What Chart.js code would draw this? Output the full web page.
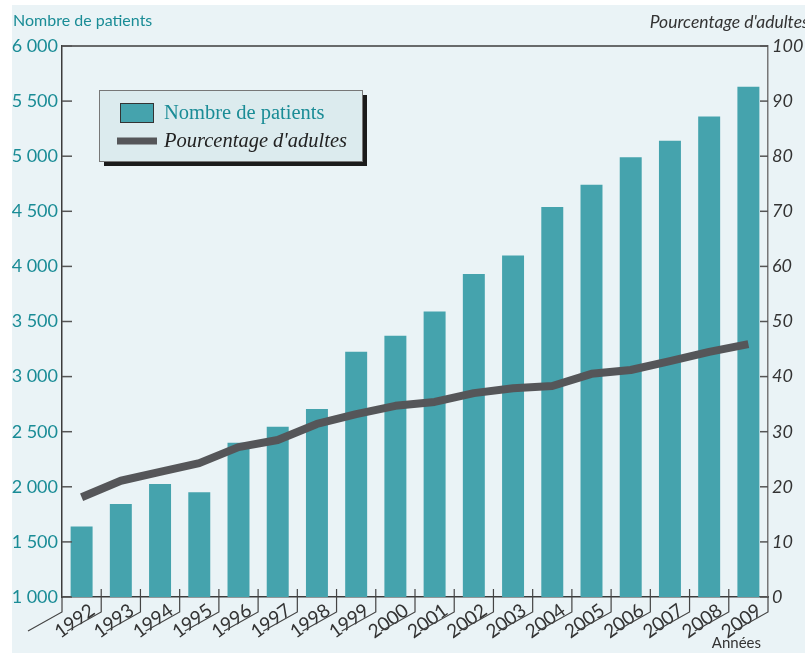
<!DOCTYPE html>
<html>
<head>
<meta charset="utf-8">
<script src="https://cdn.jsdelivr.net/npm/chart.js@4/dist/chart.umd.min.js"></script>
<style>
  html, body { margin: 0; padding: 0; background: #ffffff; overflow: hidden; }
  #wrap { width: 805px; height: 653px; position: relative; }
</style>
</head>
<body>
<div id="wrap"><canvas id="chart" width="805" height="653"></canvas></div>
<script>
var years = ['1992', '1993', '1994', '1995', '1996', '1997', '1998', '1999', '2000',
             '2001', '2002', '2003', '2004', '2005', '2006', '2007', '2008', '2009'];
var patients = [1640, 1845, 2025, 1950, 2400, 2545, 2705, 3225, 3370,
                3590, 3930, 4100, 4540, 4740, 4990, 5140, 5360, 5630];
var adultPct = [18.1, 21.1, 22.7, 24.3, 27.2, 28.5, 31.4, 33.2, 34.7,
                35.4, 37.0, 37.9, 38.3, 40.5, 41.2, 42.8, 44.5, 45.9];

var teal = '#45a3ad';
var tealText = '#1a8c96';
var lineGrey = '#555659';
var sansFont = 'Lato, "Open Sans", sans-serif';

function spaced(v) {
    return String(v).replace(/\B(?=(\d{3})+(?!\d))/g, ' ');
}

// background panel, frame, inward ticks, x decorations, titles and legend
var decor = {
    id: 'decor',
    beforeDraw: function(chart) {
        var c = chart.ctx;
        c.save();
        c.fillStyle = '#ffffff';
        c.fillRect(0, 0, chart.width, chart.height);
        c.fillStyle = '#eaf3f6';
        c.fillRect(12, 5, chart.width - 12, chart.height - 5);
        c.restore();
    },
    afterDraw: function(chart) {
        var c = chart.ctx;
        var a = chart.chartArea;
        var x = chart.scales.x;
        var y = chart.scales.y;
        var y1 = chart.scales.y1;
        c.save();

        // top frame line
        c.strokeStyle = '#3c3c3c';
        c.lineWidth = 1.5;
        c.beginPath();
        c.moveTo(a.left, a.top);
        c.lineTo(a.right, a.top);
        c.stroke();

        // left inward ticks
        c.strokeStyle = '#555';
        c.lineWidth = 1.5;
        y.ticks.forEach(function(t) {
            var py = y.getPixelForValue(t.value);
            c.beginPath();
            c.moveTo(a.left, py);
            c.lineTo(a.left + 10, py);
            c.stroke();
        });
        // right inward ticks
        y1.ticks.forEach(function(t) {
            var py = y1.getPixelForValue(t.value);
            c.beginPath();
            c.moveTo(a.right - 8, py);
            c.lineTo(a.right, py);
            c.stroke();
        });

        // x boundary ticks and diagonal underlines
        var step = x.getPixelForValue(1) - x.getPixelForValue(0);
        c.strokeStyle = '#444';
        c.lineWidth = 1.2;
        for (var i = 0; i <= years.length; i++) {
            var bx = x.getPixelForValue(0) - step / 2 + i * step;
            c.beginPath();
            c.moveTo(bx, (i === 0 || i === years.length) ? a.bottom : a.bottom - 8);
            c.lineTo(bx, a.bottom + 15);
            c.lineTo(bx - 34, a.bottom + 34);
            c.stroke();
        }

        // axis titles
        c.fillStyle = tealText;
        c.font = '16px ' + sansFont;
        c.textAlign = 'left';
        c.textBaseline = 'alphabetic';
        c.fillText('Nombre de patients', 13, 26);
        c.fillStyle = '#333';
        c.font = 'italic 17.5px ' + sansFont;
        c.textAlign = 'right';
        c.fillText("Pourcentage d'adultes", 809, 28);
        c.font = '15px ' + sansFont;
        c.fillText('Années', 761, 648);

        // legend box with shadow
        var lx = 99, ly = 90, lw = 263, lh = 71;
        c.fillStyle = '#1b1b1b';
        c.fillRect(lx + 5, ly + 5, lw, lh);
        c.fillStyle = '#dcebee';
        c.fillRect(lx, ly, lw, lh);
        c.strokeStyle = '#777';
        c.lineWidth = 1;
        c.strokeRect(lx + 0.5, ly + 0.5, lw, lh);

        c.fillStyle = teal;
        c.fillRect(120, 103, 34, 20);
        c.strokeStyle = '#333';
        c.strokeRect(120.5, 103.5, 33, 19);
        c.fillStyle = tealText;
        c.font = '20.5px "Liberation Serif", serif';
        c.textAlign = 'left';
        c.fillText(chart.data.datasets[0].label, 164, 119);

        c.strokeStyle = lineGrey;
        c.lineWidth = 7;
        c.beginPath();
        c.moveTo(117, 141);
        c.lineTo(157, 141);
        c.stroke();
        c.fillStyle = '#222';
        c.font = 'italic 20.5px "Liberation Serif", serif';
        c.fillText(chart.data.datasets[1].label, 164, 147);

        c.restore();
    }
};

new Chart(document.getElementById('chart'), {
    type: 'bar',
    data: {
        labels: years,
        datasets: [{
            type: 'bar',
            label: 'Nombre de patients',
            data: patients,
            backgroundColor: teal,
            borderWidth: 0,
            barPercentage: 0.56,
            categoryPercentage: 1.0,
            yAxisID: 'y',
            order: 1
        }, {
            type: 'line',
            label: "Pourcentage d'adultes",
            data: adultPct,
            borderColor: lineGrey,
            borderWidth: 8,
            borderCapStyle: 'butt',
            borderJoinStyle: 'round',
            pointRadius: 0,
            tension: 0,
            fill: false,
            yAxisID: 'y1',
            order: 0
        }]
    },
    options: {
        responsive: false,
        animation: false,
        layout: { padding: { top: 46, left: 0, right: 0, bottom: 0 } },
        plugins: {
            legend: { display: false },
            tooltip: { enabled: false },
            title: { display: false }
        },
        scales: {
            x: {
                offset: true,
                grid: { display: false, drawTicks: false },
                border: { display: true, color: '#3c3c3c', width: 1.5 },
                ticks: {
                    color: '#333',
                    font: { family: sansFont, size: 19 },
                    minRotation: 36,
                    maxRotation: 36,
                    autoSkip: false,
                    padding: 2,
                    labelOffset: 11
                },
                afterFit: function(s) {
                    s.height = 56;
                    s.paddingLeft = 0;
                    s.paddingRight = 0;
                }
            },
            y: {
                position: 'left',
                min: 1000,
                max: 6000,
                grid: { display: false, drawTicks: false },
                border: { display: true, color: '#3c3c3c', width: 1.5 },
                ticks: {
                    stepSize: 500,
                    color: tealText,
                    padding: 4,
                    font: { family: sansFont, size: 18 },
                    callback: function(v) { return spaced(v); }
                },
                afterFit: function(s) {
                    s.width = 62;
                    s.paddingTop = 0;
                    s.paddingBottom = 0;
                }
            },
            y1: {
                position: 'right',
                min: 0,
                max: 100,
                grid: { display: false, drawTicks: false },
                border: { display: true, color: '#777', width: 1.5 },
                ticks: {
                    stepSize: 10,
                    color: '#333',
                    padding: 4,
                    font: { family: sansFont, size: 18, style: 'italic' }
                },
                afterFit: function(s) {
                    s.width = 37;
                    s.paddingTop = 0;
                    s.paddingBottom = 0;
                }
            }
        }
    },
    plugins: [decor]
});
</script>
</body>
</html>
